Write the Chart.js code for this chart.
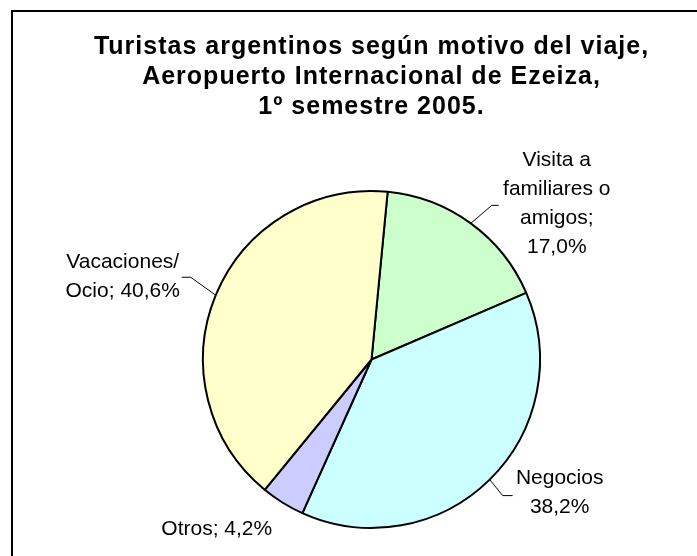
<!DOCTYPE html>
<html>
<head>
<meta charset="utf-8">
<title>Turistas argentinos según motivo del viaje</title>
<script src="https://cdn.jsdelivr.net/npm/chart.js@4.4.1/dist/chart.umd.min.js"></script>
<style>
    body { margin: 0; background: #fff; }
    #frame { position: absolute; left: 11px; top: 10px; width: 800px; height: 700px; border: 2px solid #000; }
    #wrap { position: absolute; left: 0; top: 0; width: 697px; height: 556px; }
</style>
</head>
<body>
<div id="frame"></div>
<div id="wrap"><canvas id="pie-chart"></canvas></div>
<script>
// Chart data
const titleLines = [
    'Turistas argentinos según motivo del viaje,',
    'Aeropuerto Internacional de Ezeiza,',
    '1º semestre 2005.'
];
const categories = ['Visita a familiares o amigos', 'Negocios', 'Otros', 'Vacaciones/ Ocio'];
const values = [17.0, 38.2, 4.2, 40.6];
const sliceColors = ['#CCFFCC', '#CCFFFF', '#CCCCFF', '#FFFFCC'];

function pct(v) {
    return v.toFixed(1).replace('.', ',') + '%';
}

// Label text, broken into lines like the original
const labelLines = [
    ['Visita a', 'familiares o', 'amigos;', pct(values[0])],
    ['Negocios', pct(values[1])],
    ['Otros; ' + pct(values[2])],
    ['Vacaciones/', 'Ocio; ' + pct(values[3])]
];

// Label placement, relative to the middle point of each slice's rim
const labelLayout = [
    { tx: 86, ty: -20, leader: [21, -18, 7] },
    { tx: 70, ty: 13, leader: [13, 16, 10] },
    { tx: -66, ty: 26, leader: null },
    { tx: -93, ty: -19, leader: [-25, -18, -9] }
];

const FONT = '"Liberation Sans", Arial, sans-serif';

// Draws the data labels with their leader lines
const pieLabels = {
    id: 'pieLabels',
    afterDatasetsDraw(chart) {
        const ctx = chart.ctx;
        const meta = chart.getDatasetMeta(0);
        ctx.save();
        ctx.font = '21px ' + FONT;
        ctx.fillStyle = '#000';
        ctx.strokeStyle = '#000';
        ctx.lineWidth = 1;
        ctx.textAlign = 'center';
        ctx.textBaseline = 'middle';
        meta.data.forEach((arc, i) => {
            const { x, y, startAngle, endAngle, outerRadius } =
                arc.getProps(['x', 'y', 'startAngle', 'endAngle', 'outerRadius'], true);
            const mid = (startAngle + endAngle) / 2;
            const px = x + Math.cos(mid) * outerRadius;
            const py = y + Math.sin(mid) * outerRadius;
            const lay = labelLayout[i];

            if (lay.leader) {
                const [bx, by, hx] = lay.leader;
                ctx.beginPath();
                ctx.moveTo(px, py);
                ctx.lineTo(px + bx, py + by);
                ctx.lineTo(px + bx + hx, py + by);
                ctx.stroke();
            }

            const lines = labelLines[i];
            const lh = 29;
            const top = py + lay.ty - (lines.length - 1) * lh / 2;
            lines.forEach((t, j) => ctx.fillText(t, px + lay.tx, top + j * lh));
        });
        ctx.restore();
    }
};

// Slightly wider letter spacing for the title only
const titleSpacing = {
    id: 'titleSpacing',
    beforeDraw(chart) { chart.ctx.letterSpacing = '1px'; },
    beforeDatasetsDraw(chart) { chart.ctx.letterSpacing = '0px'; }
};

const ctx = document.getElementById('pie-chart').getContext('2d');
new Chart(ctx, {
    type: 'pie',
    data: {
        labels: categories,
        datasets: [{
            data: values,
            backgroundColor: sliceColors,
            borderColor: '#000',
            borderWidth: 2
        }]
    },
    options: {
        responsive: true,
        maintainAspectRatio: false,
        animation: false,
        rotation: 5.5,
        layout: { padding: { left: 46, right: 0, top: 0, bottom: 27 } },
        plugins: {
            legend: { display: false },
            tooltip: { enabled: false },
            title: {
                display: true,
                text: titleLines,
                color: '#000',
                font: { family: FONT, size: 25, weight: 'bold', lineHeight: '30px' },
                padding: { top: 32, bottom: 68 }
            }
        }
    },
    plugins: [titleSpacing, pieLabels]
});
</script>
</body>
</html>
